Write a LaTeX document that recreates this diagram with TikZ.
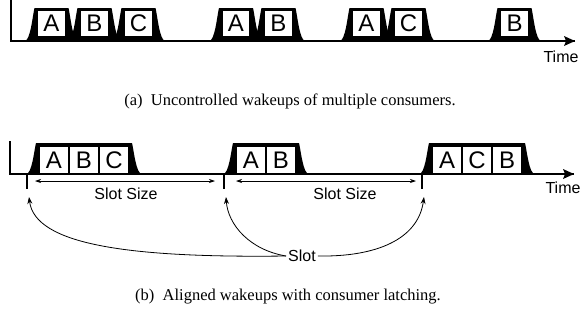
\documentclass[tikz,border=0pt]{standalone}
\usepackage{fontspec}
\setmainfont{Liberation Serif}
\setsansfont{Liberation Sans}
\usetikzlibrary{arrows.meta,positioning}

% black wakeup bump: left x, right x, base y, top y
\newcommand{\wakebump}[4]{%
  \fill (#1,#3) .. controls ({#1+6},#3) and ({#1+8},{#4+8}) .. ({#1+10},#4)
    -- ({#2-10},#4) .. controls ({#2-8},{#4+8}) and ({#2-6},#3) .. (#2,#3) -- cycle;}

\tikzset{
  cons/.style={draw, fill=white, line width=1.2pt, inner sep=0pt, outer sep=0pt,
    minimum width=28pt, minimum height=27pt, font=\sffamily\fontsize{24}{24}\selectfont},
  axis/.style={line width=1.6pt},
  tick/.style={line width=2.4pt},
  lbl/.style={font=\sffamily\fontsize{16}{16}\selectfont},
  capt/.style={font=\fontsize{16.5}{18}\selectfont},
  sizearrow/.style={line width=0.7pt, {Stealth[length=6pt,width=4pt]}-{Stealth[length=6pt,width=4pt]}},
  slotarrow/.style={line width=0.8pt, -{Stealth[length=7pt,width=5pt]}},
}

\begin{document}
\begin{tikzpicture}[x=1pt, y=-1pt]
  \useasboundingbox (0,0) rectangle (581,322);

  % (a) uncontrolled wakeups
  \foreach \c in {51.5,94.5,138.5,236,278.5,366.5,408.5,514.5}
    \wakebump{\c-27}{\c+27}{41}{8};
  \draw[axis] (11,0) -- (11,41) -- (575,41);
  \fill (575,41) -- (564,36) -- (566,41) -- (564,46) -- cycle;
  \node[cons] (uA1) at (51.5,23.5) {A};
  \node[cons] (uB1) at (94.5,23.5) {B};
  \node[cons] (uC1) at (138.5,23.5) {C};
  \node[cons] (uA2) at (236,23.5) {A};
  \node[cons] (uB2) at (278.5,23.5) {B};
  \node[cons] (uA3) at (366.5,23.5) {A};
  \node[cons] (uC3) at (408.5,23.5) {C};
  \node[cons] (uB4) at (514.5,23.5) {B};
  \node[lbl] (timea) at (561,57) {Time};
  \node[capt] (capa) at (290,101) {(a)\enspace Uncontrolled wakeups of multiple consumers.};

  % (b) aligned wakeups
  \wakebump{26}{142}{174}{143}
  \wakebump{223}{309}{174}{143}
  \wakebump{419}{535}{174}{143}
  \draw[axis] (10,141) -- (10,174) -- (574,174);
  \fill (574,174) -- (563,169) -- (565,174) -- (563,179) -- cycle;
  \node[cons, minimum width=30pt, minimum height=28pt] (lA1) at (54,160) {A};
  \node[cons, minimum width=30pt, minimum height=28pt, right=0pt of lA1] (lB1) {B};
  \node[cons, minimum width=30pt, minimum height=28pt, right=0pt of lB1] (lC1) {C};
  \node[cons, minimum width=30pt, minimum height=28pt] (lA2) at (251,160) {A};
  \node[cons, minimum width=30pt, minimum height=28pt, right=0pt of lA2] (lB2) {B};
  \node[cons, minimum width=30pt, minimum height=28pt] (lA3) at (447,160) {A};
  \node[cons, minimum width=30pt, minimum height=28pt, right=0pt of lA3] (lC3) {C};
  \node[cons, minimum width=30pt, minimum height=28pt, right=0pt of lC3] (lB3) {B};
  \node[lbl] (timeb) at (563,188) {Time};

  % slot boundaries
  \coordinate (k1) at (27,189);
  \coordinate (k2) at (224,189);
  \coordinate (k3) at (422,189);
  \draw[tick] (27,174) -- (k1);
  \draw[tick] (224,174) -- (k2);
  \draw[tick] (422,174) -- (k3);
  \coordinate (s1) at (35,181);
  \coordinate (s2) at (215,181);
  \coordinate (s3) at (236,181);
  \coordinate (s4) at (416,181);
  \draw[sizearrow] (s1) -- (s2);
  \draw[sizearrow] (s3) -- (s4);
  \node[lbl] (size1) at (126,194) {Slot Size};
  \node[lbl] (size2) at (345,194) {Slot Size};

  \node[lbl, inner sep=2pt] (slot) at (302,256) {Slot};
  \coordinate (e1) at (29,197);
  \coordinate (e2) at (226,197);
  \coordinate (e3) at (424,197);
  \draw[slotarrow] (slot.west) .. controls (130,258) and (35,245) .. (e1);
  \draw[slotarrow] (slot.west) .. controls (250,250) and (228,225) .. (e2);
  \draw[slotarrow] (slot.east) .. controls (375,257) and (418,240) .. (e3);

  \node[capt] (capb) at (288,297) {(b)\enspace Aligned wakeups with consumer latching.};
\end{tikzpicture}
\end{document}
